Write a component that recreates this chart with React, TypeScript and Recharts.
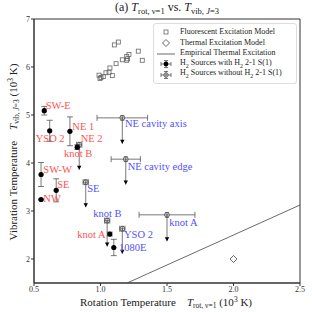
import React from 'react';
import { ComposedChart, Scatter, XAxis, YAxis, ErrorBar, ReferenceArea } from 'recharts';

const FONT = '"Liberation Serif", "DejaVu Serif", serif';
const RED = '#ff5252';
const BLUE = '#5050ff';
const GREY = '#555';

// fluorescent excitation model grid (T_rot, T_vib)
const fluorRot = [1.104, 1.134, 1.284, 1.314, 1.214, 1.197, 1.204, 1.164, 1.197, 1.117, 1.071, 1.041, 1.064, 1.089, 0.989, 1.004, 1.021, 0.996];
const fluorVib = [6.46, 6.52, 6.33, 6.14, 6.26, 6.22, 6.17, 6.15, 6.14, 6.07, 5.98, 5.88, 5.89, 5.82, 5.83, 5.78, 5.80, 5.76];

const thermalRot = [2.0];
const thermalVib = [2.0];

const empiricalRot = [1.2, 2.5];
const empiricalVib = [1.5, 3.125];

// H2 sources with 2-1 S(1)
const withNames = ['SW-E', 'YSO 2', 'NE 1', 'NE 2', 'SW-W', 'SE', 'NW', 'knot A', '1080E'];
const withRot = [0.577, 0.618, 0.77, 0.825, 0.553, 0.667, 0.553, 1.07, 1.10];
const withVib = [5.09, 4.67, 4.66, 4.33, 3.76, 3.43, 3.24, 2.52, 2.24];
const withVibErr = [0.09, 0.22, 0.3, 0.05, 0.25, 0.24, 0.01, 0.04, 0.17];

// H2 sources without 2-1 S(1) (upper limits)
const woNames = ['NE cavity axis', 'NE cavity edge', 'SE', 'knot B', 'YSO 2', 'knot A', 'knot B*'];
const woRot = [1.164, 1.19, 0.889, 1.05, 1.164, 1.50, 0.84];
const woVib = [4.94, 4.08, 3.60, 2.80, 2.63, 2.92, 4.38];
const woRotErr = [0.19, 0.11, 0.02, 0.02, 0.02, 0.21, 0.02];
const woLimit = [0.54, 0.53, 0.52, 0.54, 0.52, 0.55, 0.52];

// annotation anchors (data coordinates)
const redNoteText = ['SW-E', 'YSO 2', 'NE 1', 'NE 2', 'knot B', 'SW-W', 'SE', 'NW', 'knot A'];
const redNoteRot = [0.588, 0.513, 0.788, 0.851, 0.726, 0.57, 0.675, 0.57, 0.826];
const redNoteVib = [5.20, 4.52, 4.76, 4.51, 4.19, 3.875, 3.55, 3.27, 2.52];

const blueNoteText = ['NE cavity axis', 'NE cavity edge', 'SE', 'knot B', 'YSO 2', '1080E', 'knot A'];
const blueNoteRot = [1.184, 1.204, 0.90, 0.946, 1.177, 1.14, 1.517];
const blueNoteVib = [4.83, 3.93, 3.46, 2.94, 2.51, 2.23, 2.77];

const xTicks = [0.5, 1.0, 1.5, 2.0, 2.5];
const yTicks = [2, 3, 4, 5, 6, 7];

const fluorData = fluorRot.map((x, i) => ({ x, y: fluorVib[i] }));
const thermalData = thermalRot.map((x, i) => ({ x, y: thermalVib[i] }));
const empiricalData = empiricalRot.map((x, i) => ({ x, y: empiricalVib[i] }));
const withData = withNames.map((name, i) => ({ name, x: withRot[i], y: withVib[i], yErr: withVibErr[i] }));
const woData = woNames.map((name, i) => ({
    name, x: woRot[i], y: woVib[i], xErr: woRotErr[i], lim: [woLimit[i], 0], cap: 0.05,
}));
const tipData = woNames.map((name, i) => ({ name, x: woRot[i], y: woVib[i] - woLimit[i] }));
const redNotes = redNoteText.map((name, i) => ({ name, x: redNoteRot[i], y: redNoteVib[i] }));
const blueNotes = blueNoteText.map((name, i) => ({ name, x: blueNoteRot[i], y: blueNoteVib[i] }));

const Square = ({ cx, cy }: any) => (
    <rect x={cx - 2} y={cy - 2} width={4} height={4} fill="none" stroke="#666" strokeWidth={0.8} />
);
const Diamond = ({ cx, cy }: any) => (
    <path d={`M${cx},${cy - 3.5}L${cx + 3.5},${cy}L${cx},${cy + 3.5}L${cx - 3.5},${cy}Z`} fill="none" stroke="#444" strokeWidth={0.8} />
);
const Filled = ({ cx, cy }: any) => <circle cx={cx} cy={cy} r={2.6} fill="#000" />;
const Open = ({ cx, cy }: any) => <circle cx={cx} cy={cy} r={2.4} fill="none" stroke={GREY} strokeWidth={0.9} />;
const Tip = ({ cx, cy }: any) => <path d={`M${cx - 2.2},${cy - 4}L${cx + 2.2},${cy - 4}L${cx},${cy}Z`} fill="#000" />;
const Nothing = () => <g />;
const note = (color: string) => ({ cx, cy, payload }: any) => (
    <text x={cx} y={cy} fill={color} fontSize={10.5} fontFamily={FONT} dominantBaseline="central">
        {payload.name}
    </text>
);

const XTitle = () => (
    <text x={166} y={306} textAnchor="middle" fontSize={11} fontFamily={FONT} fill="#222">
        Rotation Temperature{'\u00a0\u00a0\u00a0\u00a0'}
        <tspan fontStyle="italic">T</tspan>
        <tspan fontSize={7.5} dy={2}>rot, ν=1</tspan>
        <tspan dy={-2}> (10</tspan>
        <tspan fontSize={7.5} dy={-4}>3</tspan>
        <tspan dy={4}> K)</tspan>
    </text>
);

const YTitle = () => (
    <text x={0} y={0} transform="translate(17,152) rotate(-90)" textAnchor="middle" fontSize={11} fontFamily={FONT} fill="#222">
        Vibration Temperature{'\u00a0\u00a0\u00a0\u00a0'}
        <tspan fontStyle="italic">T</tspan>
        <tspan fontSize={7.5} dy={2}>vib, </tspan>
        <tspan fontSize={7.5} fontStyle="italic">J</tspan>
        <tspan fontSize={7.5}>=3</tspan>
        <tspan dy={-2}> (10</tspan>
        <tspan fontSize={7.5} dy={-4}>3</tspan>
        <tspan dy={4}> K)</tspan>
    </text>
);

const LegendIcon = ({ kind }: { kind: string }) => (
    <svg width={18} height={8} style={{ display: 'block' }}>
        {kind === 'sq' && <rect x={7} y={2} width={4} height={4} fill="none" stroke="#666" strokeWidth={0.8} />}
        {kind === 'di' && <path d="M9,0.5L12.5,4L9,7.5L5.5,4Z" fill="none" stroke="#444" strokeWidth={0.8} />}
        {kind === 'ln' && <line x1={0} y1={4} x2={18} y2={4} stroke="#444" strokeWidth={0.8} />}
        {(kind === 'f' || kind === 'o') && (
            <g stroke={GREY} strokeWidth={0.8}>
                <line x1={4} y1={4} x2={14} y2={4} />
                <line x1={4} y1={2} x2={4} y2={6} />
                <line x1={14} y1={2} x2={14} y2={6} />
                <line x1={9} y1={0.5} x2={9} y2={7.5} />
                <line x1={7} y1={0.5} x2={11} y2={0.5} />
                <line x1={7} y1={7.5} x2={11} y2={7.5} />
            </g>
        )}
        {kind === 'f' && <circle cx={9} cy={4} r={2.4} fill="#000" />}
        {kind === 'o' && <circle cx={9} cy={4} r={2.2} fill="none" stroke={GREY} strokeWidth={0.9} />}
    </svg>
);

const legendRows = [
    { kind: 'sq', text: <>Fluorescent Excitation Model</> },
    { kind: 'di', text: <>Thermal Excitation Model</> },
    { kind: 'ln', text: <>Empirical Thermal Excitation</> },
    { kind: 'f', text: <>H<sub style={{ fontSize: 6 }}>2</sub> Sources with H<sub style={{ fontSize: 6 }}>2</sub> 2-1 S(1)</> },
    { kind: 'o', text: <>H<sub style={{ fontSize: 6 }}>2</sub> Sources without H<sub style={{ fontSize: 6 }}>2</sub> 2-1 S(1)</> },
];

export default function App() {
    return (
        <div style={{ position: 'absolute', left: 0, top: 0, width: 312, height: 312, background: '#fff', fontFamily: FONT }}>
            <div style={{ position: 'absolute', left: 34, width: 266, top: 0, textAlign: 'center', fontSize: 12, color: '#222', lineHeight: '15px' }}>
                (a) <i>T</i><sub style={{ fontSize: 8.5 }}>rot, ν=1</sub> vs. <i>T</i><sub style={{ fontSize: 8.5 }}>vib, <i>J</i>=3</sub>
            </div>
            <ComposedChart width={312} height={312} margin={{ top: 19, right: 12, left: 0, bottom: 0 }}>
                <XAxis type="number" dataKey="x" domain={[0.5, 2.5]} ticks={xTicks} allowDataOverflow height={29}
                    tickFormatter={(v: number) => v.toFixed(1)} tickSize={3} tickMargin={0}
                    tick={{ fontSize: 8, fontFamily: FONT, fill: '#333' }} stroke="#333" label={<XTitle />} />
                <YAxis type="number" dataKey="y" domain={[1.5, 7]} ticks={yTicks} allowDataOverflow width={34}
                    tickSize={3} tickMargin={1}
                    tick={{ fontSize: 8, fontFamily: FONT, fill: '#333' }} stroke="#333" label={<YTitle />} />
                <ReferenceArea x1={0.5} x2={2.5} y1={1.5} y2={7} fill="none" stroke="#333" strokeWidth={1} />
                <Scatter data={empiricalData} line={{ stroke: '#444', strokeWidth: 0.8 }} shape={<Nothing />} isAnimationActive={false} />
                <Scatter data={fluorData} shape={<Square />} isAnimationActive={false} />
                <Scatter data={thermalData} shape={<Diamond />} isAnimationActive={false} />
                <Scatter data={woData} shape={<Open />} isAnimationActive={false}>
                    <ErrorBar dataKey="xErr" direction="x" width={3} stroke={GREY} strokeWidth={0.8} />
                    <ErrorBar dataKey="lim" direction="y" width={0} stroke={GREY} strokeWidth={0.8} />
                    <ErrorBar dataKey="cap" direction="y" width={2} stroke={GREY} strokeWidth={0.8} />
                </Scatter>
                <Scatter data={tipData} shape={<Tip />} isAnimationActive={false} />
                <Scatter data={withData} shape={<Filled />} isAnimationActive={false}>
                    <ErrorBar dataKey="yErr" direction="y" width={3} stroke={GREY} strokeWidth={0.8} />
                </Scatter>
                <Scatter data={redNotes} shape={note(RED)} isAnimationActive={false} />
                <Scatter data={blueNotes} shape={note(BLUE)} isAnimationActive={false} />
            </ComposedChart>
            <div style={{
                position: 'absolute', left: 153, top: 23, width: 144, height: 61, boxSizing: 'border-box',
                border: '1px solid #ddd', borderRadius: 3, background: 'rgba(255,255,255,0.85)',
                fontSize: 8, color: '#222', padding: '3px 0 0 3px', lineHeight: '10.7px',
            }}>
                {legendRows.map((r, i) => (
                    <div key={i} style={{ display: 'flex', alignItems: 'center', height: 10.7 }}>
                        <LegendIcon kind={r.kind} />
                        <span style={{ marginLeft: 5, whiteSpace: 'nowrap' }}>{r.text}</span>
                    </div>
                ))}
            </div>
        </div>
    );
}
